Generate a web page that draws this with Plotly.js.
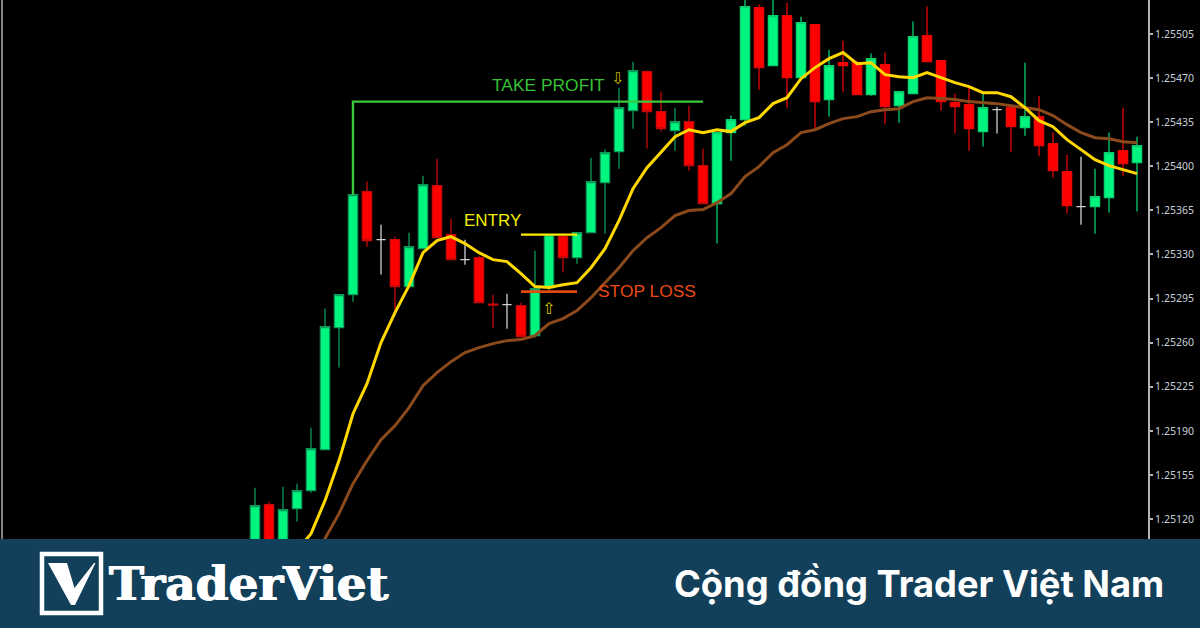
<!DOCTYPE html>
<html>
<head>
<meta charset="utf-8">
<script src="https://cdn.plot.ly/plotly-3.0.1.min.js"></script>
<style>html,body{margin:0;padding:0;background:#000;overflow:hidden}#chart{width:1200px;height:628px}</style>
</head>
<body>
<div id="chart"></div>
<script>
const opens = [1.250870,1.251314,1.250920,1.251283,1.251425,1.251751,1.252719,1.252981,1.253798,1.253417,1.253417,1.253045,1.253346,1.253846,1.253457,1.253259,1.253274,1.252906,1.252902,1.252894,1.252655,1.253037,1.253441,1.253274,1.253473,1.253870,1.254116,1.254441,1.254751,1.254433,1.254283,1.254354,1.254005,1.253703,1.254267,1.254370,1.255259,1.254798,1.255195,1.254703,1.255124,1.254529,1.254822,1.254822,1.254568,1.254806,1.254481,1.254576,1.255037,1.254838,1.254505,1.254489,1.254275,1.254449,1.254465,1.254306,1.254394,1.254179,1.253957,1.253680,1.253680,1.253751,1.254124,1.254029];
const highs = [1.251449,1.251338,1.251457,1.251481,1.251925,1.252870,1.252981,1.254005,1.253878,1.253536,1.253441,1.253473,1.253925,1.254060,1.253584,1.253417,1.253290,1.252981,1.252989,1.252917,1.253330,1.253457,1.253457,1.253473,1.254068,1.254132,1.254624,1.254830,1.254759,1.254592,1.254465,1.254481,1.254140,1.254267,1.254402,1.255350,1.255283,1.255340,1.255298,1.255187,1.255124,1.254925,1.254997,1.254838,1.254894,1.254902,1.254600,1.255148,1.255267,1.254838,1.254576,1.254624,1.254576,1.254473,1.254481,1.254822,1.254560,1.254267,1.254092,1.254076,1.253981,1.254267,1.254465,1.254235];
const lows = [1.250800,1.250800,1.250850,1.251180,1.251409,1.251751,1.252402,1.252925,1.253362,1.253140,1.252838,1.253045,1.253346,1.253433,1.253259,1.253219,1.252917,1.252719,1.252711,1.252648,1.252640,1.253013,1.253156,1.253227,1.253473,1.253465,1.253981,1.254298,1.254140,1.254275,1.254124,1.253965,1.253703,1.253386,1.254044,1.254322,1.254608,1.254798,1.254465,1.254703,1.254298,1.254394,1.254592,1.254568,1.254560,1.254338,1.254346,1.254576,1.254830,1.254441,1.254259,1.254124,1.254156,1.254259,1.254116,1.254243,1.254084,1.253910,1.253624,1.253536,1.253465,1.253632,1.253925,1.253640];
const closes = [1.251306,1.250850,1.251275,1.251425,1.251759,1.252727,1.252981,1.253775,1.253410,1.253417,1.253045,1.253362,1.253854,1.253433,1.253259,1.253259,1.252917,1.252898,1.252902,1.252648,1.253029,1.253457,1.253274,1.253473,1.253878,1.254108,1.254465,1.254759,1.254433,1.254298,1.254354,1.254005,1.253703,1.254267,1.254370,1.255267,1.254783,1.255195,1.254703,1.255140,1.254513,1.254798,1.254798,1.254568,1.254854,1.254473,1.254592,1.255029,1.254830,1.254513,1.254473,1.254298,1.254465,1.254449,1.254314,1.254394,1.254163,1.253965,1.253687,1.253680,1.253759,1.254108,1.254021,1.254163];
const maFast = [null,null,1.250790,1.250949,1.251084,1.251346,1.251664,1.252036,1.252274,1.252600,1.252838,1.253052,1.253314,1.253410,1.253441,1.253386,1.253314,1.253259,1.253243,1.253148,1.253045,1.253037,1.253060,1.253076,1.253195,1.253346,1.253568,1.253822,1.253989,1.254108,1.254235,1.254290,1.254267,1.254290,1.254275,1.254346,1.254386,1.254497,1.254544,1.254695,1.254783,1.254854,1.254902,1.254814,1.254822,1.254727,1.254711,1.254703,1.254743,1.254703,1.254664,1.254632,1.254584,1.254584,1.254552,1.254465,1.254362,1.254314,1.254211,1.254132,1.254052,1.254005,1.253973,1.253941];
const maSlow = [null,null,null,null,1.250870,1.251045,1.251243,1.251481,1.251664,1.251830,1.251941,1.252084,1.252259,1.252362,1.252449,1.252521,1.252560,1.252592,1.252616,1.252624,1.252655,1.252751,1.252791,1.252854,1.252957,1.253076,1.253195,1.253330,1.253433,1.253513,1.253608,1.253648,1.253656,1.253711,1.253783,1.253918,1.253997,1.254108,1.254171,1.254267,1.254290,1.254338,1.254378,1.254394,1.254433,1.254449,1.254457,1.254513,1.254544,1.254537,1.254529,1.254513,1.254505,1.254497,1.254481,1.254465,1.254449,1.254402,1.254330,1.254267,1.254227,1.254219,1.254195,1.254187];
const tickValues = [1.25505,1.25470,1.25435,1.25400,1.25365,1.25330,1.25295,1.25260,1.25225,1.25190,1.25155,1.25120];
const tickLabels = ["1.25505","1.25470","1.25435","1.25400","1.25365","1.25330","1.25295","1.25260","1.25225","1.25190","1.25155","1.25120"];
const takeProfitLevel = 1.254513, entryLevel = 1.253457, stopLossLevel = 1.253005;
const signalBar = 7, tradeBar = 19, confirmBar = 23, exitBar = 32;
const tpAnchor = 1.253775;
const bars = opens.map((_, i) => i);

const PW = 1148, PH = 539;
const px = x => x / PW, py = y => 1 - y / PH;
const BULL = '#00f57f', BEAR = '#ff0000', DOJI = '#e8e8e8';

function candle(test, color, wick) {
  const idx = bars.filter(test);
  const pick = a => idx.map(i => a[i]);
  const side = {fillcolor: color, line: {color: wick, width: 1.3}};
  return {type: 'candlestick', x: idx, open: pick(opens), high: pick(highs), low: pick(lows), close: pick(closes),
    increasing: side, decreasing: side, whiskerwidth: 0, hoverinfo: 'skip', showlegend: false};
}
const seam = 33;
const isBull = i => closes[i] > opens[i], isBear = i => closes[i] < opens[i], isDoji = i => closes[i] === opens[i];
const traces = [
  candle(i => isBull(i) && i < seam, BULL, '#0b9a58'),
  candle(i => isBull(i) && i >= seam, BULL, '#06cf70'),
  candle(i => isBear(i) && i < seam, BEAR, '#c80808'),
  candle(i => isBear(i) && i >= seam, BEAR, '#e80505'),
  candle(isDoji, DOJI, '#d0d0d0')
];
function line(x, y, color, width) {
  return {type: 'scatter', mode: 'lines', x, y, line: {color, width}, hoverinfo: 'skip', showlegend: false, connectgaps: false};
}
traces.push(line(bars, maSlow, '#8b4a1c', 3));
traces.push(line(bars, maFast, '#ffd800', 3));
traces.push(line([signalBar, signalBar, exitBar], [tpAnchor, takeProfitLevel, takeProfitLevel], '#3cc83c', 2.4));
traces.push(line([tradeBar, confirmBar], [entryLevel, entryLevel], '#ffe900', 2.4));
traces.push(line([tradeBar, confirmBar], [stopLossLevel, stopLossLevel], '#e04a10', 2.8));

const BANNER = '#123f5a';
const logoV = [[48,563],[67,563],[74.5,588],[94,563],[95.5,563],[75,605],[71,605]];
const vPath = 'M ' + logoV.map(p => px(p[0]) + ' ' + py(p[1])).join(' L ') + ' Z';
const shapes = [
  {type:'line', xref:'paper', yref:'paper', x0:px(2), x1:px(2), y0:0, y1:1, line:{color:'#b0b0b0', width:1.5}, layer:'above'},
  {type:'rect', xref:'paper', yref:'paper', x0:0, x1:px(1200), y0:py(628), y1:py(539), fillcolor:BANNER, line:{width:0}, layer:'above'},
  {type:'rect', xref:'paper', yref:'paper', x0:px(42), x1:px(101), y0:py(613), y1:py(554), fillcolor:BANNER, line:{color:'#ffffff', width:4.5}, layer:'above'},
  {type:'path', xref:'paper', yref:'paper', path:vPath, fillcolor:'#ffffff', line:{width:0}, layer:'above'}
];
const ann = (x, y, text, size, color, family) => ({xref:'x', yref:'y', x, y, text, showarrow:false, xanchor:'center', yanchor:'middle',
  font:{size, color, family: family || 'Liberation Sans'}});
const annotations = [
  ann(20.93, 1.254645, 'TAKE PROFIT', 17.4, '#35c235'),
  ann(16.93, 1.253568, 'ENTRY', 17, '#f2f200'),
  ann(28, 1.253010, 'STOP LOSS', 17.4, '#e84a14'),
  ann(25.86, 1.254696, '⇩', 16, '#c8b400', 'DejaVu Sans'),
  ann(20.93, 1.252870, '⇧', 16, '#d8c800', 'DejaVu Sans'),
  {xref:'paper', yref:'paper', x:px(107), y:py(583), xanchor:'left', yanchor:'middle', showarrow:false, text:'<b>TraderViet</b>',
    font:{family:'DejaVu Serif', size:47, color:'#ffffff', shadow:'0.7px 0 #ffffff, -0.7px 0 #ffffff'}},
  {xref:'paper', yref:'paper', x:px(1166), y:py(584), xanchor:'right', yanchor:'middle', showarrow:false, text:'<b>Cộng đồng Trader Việt Nam</b>',
    font:{family:'Inter', size:36.3, color:'#ffffff'}}
];
const layout = {
  width: 1200, height: 628, margin: {l:0, r:52, t:0, b:89, pad:0},
  paper_bgcolor:'#000000', plot_bgcolor:'#000000', showlegend:false, hovermode:false, dragmode:false,
  boxmode:'overlay', boxgap:0.34, boxgroupgap:0,
  xaxis:{range:[-18.214, 63.786], visible:false, fixedrange:true, rangeslider:{visible:false}},
  yaxis:{side:'right', range:[1.2510415, 1.2553195], tickmode:'array', tickvals:tickValues, ticktext:tickLabels, showgrid:false, zeroline:false,
    showline:true, linecolor:'#b4b4b4', linewidth:2, ticks:'outside', ticklen:3, tickwidth:2, tickcolor:'#b4b4b4', fixedrange:true,
    tickfont:{family:'Noto Sans', size:10.5, color:'#c8d0d8'}, automargin:false},
  shapes, annotations
};
Plotly.newPlot('chart', traces, layout, {displayModeBar:false, staticPlot:true});
</script>
</body>
</html>
